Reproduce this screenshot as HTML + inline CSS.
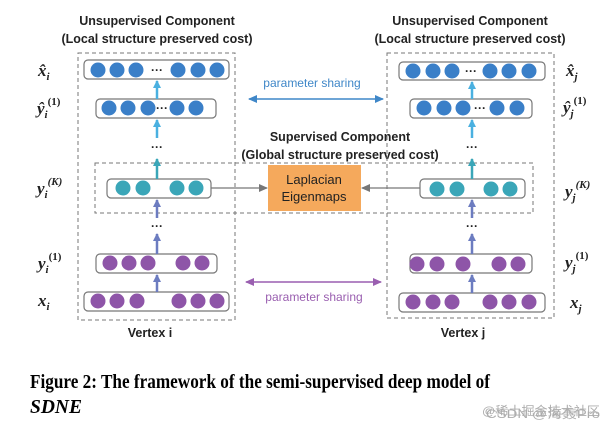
<!DOCTYPE html>
<html><head><meta charset="utf-8"><style>
html,body{margin:0;padding:0;background:#fff;width:614px;height:428px;overflow:hidden}
svg{display:block}
</style></head><body>
<svg width="614" height="428" xmlns="http://www.w3.org/2000/svg" font-family="'Liberation Sans','DejaVu Sans',sans-serif">
<defs>
<marker id="ab" markerWidth="8" markerHeight="8" refX="7" refY="4" orient="auto" markerUnits="userSpaceOnUse"><path d="M0,0 L8,4 L0,8 z" fill="#4ab0e0"/></marker>
<marker id="ap" markerWidth="8" markerHeight="8" refX="7" refY="4" orient="auto" markerUnits="userSpaceOnUse"><path d="M0,0 L8,4 L0,8 z" fill="#6c7cc0"/></marker>
<marker id="at" markerWidth="8" markerHeight="8" refX="7" refY="4" orient="auto" markerUnits="userSpaceOnUse"><path d="M0,0 L8,4 L0,8 z" fill="#3aa6b8"/></marker>
<marker id="ag" markerWidth="9" markerHeight="8" refX="8" refY="4" orient="auto" markerUnits="userSpaceOnUse"><path d="M0,0 L9,4 L0,8 z" fill="#777"/></marker>
<marker id="sb" markerWidth="9" markerHeight="8" refX="8" refY="4" orient="auto-start-reverse" markerUnits="userSpaceOnUse"><path d="M0,0 L9,4 L0,8 z" fill="#3f87c8"/></marker>
<marker id="sp" markerWidth="9" markerHeight="8" refX="8" refY="4" orient="auto-start-reverse" markerUnits="userSpaceOnUse"><path d="M0,0 L9,4 L0,8 z" fill="#9a5fb0"/></marker>
</defs>

<!-- headers -->
<g font-weight="bold" font-size="12.5" fill="#222" text-anchor="middle">
<text x="157" y="25">Unsupervised Component</text>
<text x="157" y="43">(Local structure preserved cost)</text>
<text x="470" y="25">Unsupervised Component</text>
<text x="470" y="43">(Local structure preserved cost)</text>
<text x="340" y="141">Supervised Component</text>
<text x="340" y="159">(Global structure preserved cost)</text>
</g>

<!-- dashed boxes -->
<g fill="none" stroke="#777" stroke-width="1" stroke-dasharray="4,3">
<rect x="78" y="53" width="157" height="267"/>
<rect x="387" y="53" width="167" height="265"/>
<rect x="95" y="163" width="438" height="50"/>
</g>

<!-- layer boxes -->
<g fill="#fff" stroke="#777" stroke-width="1.2">
<rect x="84" y="60" width="145" height="19" rx="4"/>
<rect x="96" y="99" width="120" height="19" rx="4"/>
<rect x="107" y="179" width="104" height="19" rx="4"/>
<rect x="96" y="254" width="121" height="19" rx="4"/>
<rect x="84" y="292" width="145" height="19" rx="4"/>
<rect x="399" y="62" width="146" height="18" rx="4"/>
<rect x="410" y="99" width="122" height="19" rx="4"/>
<rect x="420" y="179" width="105" height="19" rx="4"/>
<rect x="410" y="254" width="122" height="19" rx="4"/>
<rect x="399" y="293" width="146" height="19" rx="4"/>
</g>

<!-- circles -->
<g fill="#3a7fc8">
<circle cx="98" cy="70" r="7.5"/><circle cx="117" cy="70" r="7.5"/><circle cx="136" cy="70" r="7.5"/>
<circle cx="178" cy="70" r="7.5"/><circle cx="198" cy="70" r="7.5"/><circle cx="217" cy="70" r="7.5"/>
<circle cx="109" cy="108" r="7.5"/><circle cx="128" cy="108" r="7.5"/><circle cx="148" cy="108" r="7.5"/>
<circle cx="177" cy="108" r="7.5"/><circle cx="196" cy="108" r="7.5"/>
<circle cx="413" cy="71" r="7.5"/><circle cx="433" cy="71" r="7.5"/><circle cx="452" cy="71" r="7.5"/>
<circle cx="490" cy="71" r="7.5"/><circle cx="509" cy="71" r="7.5"/><circle cx="529" cy="71" r="7.5"/>
<circle cx="424" cy="108" r="7.5"/><circle cx="444" cy="108" r="7.5"/><circle cx="463" cy="108" r="7.5"/>
<circle cx="497" cy="108" r="7.5"/><circle cx="517" cy="108" r="7.5"/>
</g>
<g fill="#3aa6b8">
<circle cx="123" cy="188" r="7.5"/><circle cx="143" cy="188" r="7.5"/><circle cx="177" cy="188" r="7.5"/><circle cx="196" cy="188" r="7.5"/>
<circle cx="437" cy="189" r="7.5"/><circle cx="457" cy="189" r="7.5"/><circle cx="491" cy="189" r="7.5"/><circle cx="510" cy="189" r="7.5"/>
</g>
<g fill="#8e55a8">
<circle cx="110" cy="263" r="7.5"/><circle cx="129" cy="263" r="7.5"/><circle cx="148" cy="263" r="7.5"/>
<circle cx="183" cy="263" r="7.5"/><circle cx="202" cy="263" r="7.5"/>
<circle cx="98" cy="301" r="7.5"/><circle cx="117" cy="301" r="7.5"/><circle cx="137" cy="301" r="7.5"/>
<circle cx="179" cy="301" r="7.5"/><circle cx="198" cy="301" r="7.5"/><circle cx="217" cy="301" r="7.5"/>
<circle cx="417" cy="264" r="7.5"/><circle cx="437" cy="264" r="7.5"/><circle cx="463" cy="264" r="7.5"/>
<circle cx="499" cy="264" r="7.5"/><circle cx="518" cy="264" r="7.5"/>
<circle cx="413" cy="302" r="7.5"/><circle cx="433" cy="302" r="7.5"/><circle cx="452" cy="302" r="7.5"/>
<circle cx="490" cy="302" r="7.5"/><circle cx="509" cy="302" r="7.5"/><circle cx="529" cy="302" r="7.5"/>
</g>

<!-- ellipses in boxes -->
<g font-weight="bold" font-size="12" fill="#222" text-anchor="middle">
<text x="157" y="74">···</text><text x="162" y="112">···</text>
<text x="471" y="75">···</text><text x="480" y="112">···</text>
<text x="157" y="151">···</text><text x="157" y="230">···</text>
<text x="472" y="151">···</text><text x="472" y="230">···</text>
</g>

<!-- vertical arrows -->
<g stroke-width="2.5">
<line x1="157" y1="99" x2="157" y2="81" stroke="#4ab0e0" marker-end="url(#ab)"/>
<line x1="157" y1="138" x2="157" y2="120" stroke="#4ab0e0" marker-end="url(#ab)"/>
<line x1="157" y1="179" x2="157" y2="159" stroke="#3aa6b8" marker-end="url(#at)"/>
<line x1="157" y1="218" x2="157" y2="200" stroke="#6c7cc0" marker-end="url(#ap)"/>
<line x1="157" y1="254" x2="157" y2="234" stroke="#6c7cc0" marker-end="url(#ap)"/>
<line x1="157" y1="292" x2="157" y2="275" stroke="#6c7cc0" marker-end="url(#ap)"/>
<line x1="472" y1="99" x2="472" y2="82" stroke="#4ab0e0" marker-end="url(#ab)"/>
<line x1="472" y1="138" x2="472" y2="120" stroke="#4ab0e0" marker-end="url(#ab)"/>
<line x1="472" y1="179" x2="472" y2="159" stroke="#3aa6b8" marker-end="url(#at)"/>
<line x1="472" y1="218" x2="472" y2="200" stroke="#6c7cc0" marker-end="url(#ap)"/>
<line x1="472" y1="254" x2="472" y2="234" stroke="#6c7cc0" marker-end="url(#ap)"/>
<line x1="472" y1="293" x2="472" y2="275" stroke="#6c7cc0" marker-end="url(#ap)"/>
</g>

<!-- Laplacian -->
<rect x="268" y="165" width="93" height="46" fill="#f5a95c"/>
<g font-size="13" fill="#222" text-anchor="middle">
<text x="314" y="184">Laplacian</text>
<text x="314" y="201">Eigenmaps</text>
</g>
<line x1="211" y1="188" x2="267" y2="188" stroke="#777" stroke-width="1.3" marker-end="url(#ag)"/>
<line x1="420" y1="188" x2="362" y2="188" stroke="#777" stroke-width="1.3" marker-end="url(#ag)"/>

<!-- parameter sharing -->
<line x1="249" y1="99" x2="383" y2="99" stroke="#3f87c8" stroke-width="1.5" marker-start="url(#sb)" marker-end="url(#sb)"/>
<text x="312" y="87" font-size="12" fill="#3f87c8" text-anchor="middle">parameter sharing</text>
<line x1="246" y1="282" x2="381" y2="282" stroke="#9a5fb0" stroke-width="1.5" marker-start="url(#sp)" marker-end="url(#sp)"/>
<text x="314" y="301" font-size="12" fill="#9a5fb0" text-anchor="middle">parameter sharing</text>

<!-- vertex labels -->
<g font-weight="bold" font-size="12.5" fill="#222" text-anchor="middle">
<text x="150" y="337">Vertex i</text>
<text x="463" y="337">Vertex j</text>
</g>

<!-- math labels -->
<g font-family="'Liberation Serif','DejaVu Serif',serif" font-weight="bold" font-style="italic" fill="#222">
<text x="38" y="76" font-size="17">x̂<tspan font-size="11" dy="4">i</tspan></text>
<text x="37" y="114" font-size="17">ŷ<tspan font-size="11" dy="4">i</tspan><tspan font-size="11" font-style="normal" dy="-13">(1)</tspan></text>
<text x="37" y="194" font-size="17">y<tspan font-size="11" dy="4">i</tspan><tspan font-size="11" dy="-13">(K)</tspan></text>
<text x="38" y="269" font-size="17">y<tspan font-size="11" dy="4">i</tspan><tspan font-size="11" font-style="normal" dy="-13">(1)</tspan></text>
<text x="38" y="306" font-size="17">x<tspan font-size="11" dy="4">i</tspan></text>
<text x="566" y="76" font-size="17">x̂<tspan font-size="11" dy="4">j</tspan></text>
<text x="563" y="113" font-size="17">ŷ<tspan font-size="11" dy="4">j</tspan><tspan font-size="11" font-style="normal" dy="-13">(1)</tspan></text>
<text x="565" y="197" font-size="17">y<tspan font-size="11" dy="4">j</tspan><tspan font-size="11" dy="-13">(K)</tspan></text>
<text x="565" y="268" font-size="17">y<tspan font-size="11" dy="4">j</tspan><tspan font-size="11" font-style="normal" dy="-13">(1)</tspan></text>
<text x="570" y="308" font-size="17">x<tspan font-size="11" dy="4">j</tspan></text>
</g>

<!-- caption -->
<g font-family="'Liberation Serif',serif" font-weight="bold" fill="#000">
<text x="30" y="388" font-size="19.5" textLength="460" lengthAdjust="spacingAndGlyphs">Figure 2: The framework of the semi-supervised deep model of</text>
<text x="30" y="413" font-size="19.5" font-style="italic">SDNE</text>
</g>
<g font-family="'Liberation Sans','Noto Sans CJK SC',sans-serif" font-size="12" fill="#999" opacity="0.8">
<text x="482" y="415" textLength="118" lengthAdjust="spacingAndGlyphs">@稀土掘金技术社区</text>
<text x="486" y="418" textLength="114" lengthAdjust="spacingAndGlyphs">CSDN @海轰Pro</text>
</g>
</svg>
</body></html>
